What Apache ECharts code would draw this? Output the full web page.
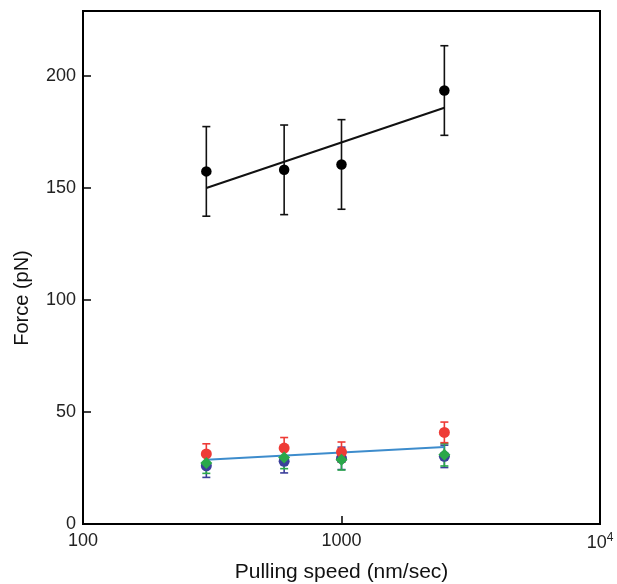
<!DOCTYPE html>
<html>
<head>
<meta charset="utf-8">
<script src="https://cdn.jsdelivr.net/npm/echarts@6/dist/echarts.min.js"></script>
<style>
  html, body { margin: 0; padding: 0; background: #fff; }
  #chart { width: 617px; height: 584px; }
</style>
</head>
<body>
<div id="chart"></div>
<script>
// Pulling speed (nm/sec) for every measured group
const speeds = [300, 600, 1000, 2500];

// Mean rupture force (pN) and its error for each group
const forceBlack = [157.4, 158.1, 160.5, 193.5];
const errBlack   = [20, 20, 20, 20];
const forceRed   = [31.3, 33.9, 32.1, 40.9];
const errRed     = [4.5, 4.7, 4.5, 4.6];
const forceBlue  = [26.0, 28.0, 29.3, 30.2];
const errBlue    = [5.2, 5.2, 5.0, 5.0];
const forceGreen = [27.2, 29.7, 28.7, 30.9];
const errGreen   = [4.6, 5.0, 4.6, 5.0];

// Fitted lines (force vs log speed), end points
const fitSpeeds = [300, 2500];
const fitBlack  = [150.0, 185.8];
const fitLow    = [28.7, 34.4];

// Axis ticks
const xTicks = [100, 1000, 10000];
const yTicks = [0, 50, 100, 150, 200];

const pairs = (xs, ys) => xs.map((x, i) => [x, ys[i]]);
const errRows = (ys, es) => speeds.map((x, i) => [x, ys[i] - es[i], ys[i] + es[i]]);

function errorBars(name, ys, es, color, z) {
  return {
    name: name,
    type: 'custom',
    z: z,
    data: errRows(ys, es),
    renderItem: function (params, api) {
      const x = api.value(0);
      const lo = api.coord([x, api.value(1)]);
      const hi = api.coord([x, api.value(2)]);
      const w = 4;
      const style = { stroke: color, lineWidth: 1.6 };
      return {
        type: 'group',
        children: [
          { type: 'line', shape: { x1: lo[0], y1: lo[1], x2: hi[0], y2: hi[1] }, style: style },
          { type: 'line', shape: { x1: lo[0] - w, y1: lo[1], x2: lo[0] + w, y2: lo[1] }, style: style },
          { type: 'line', shape: { x1: hi[0] - w, y1: hi[1], x2: hi[0] + w, y2: hi[1] }, style: style }
        ]
      };
    }
  };
}

function points(name, ys, color, symbol, size, z) {
  return {
    name: name,
    type: 'scatter',
    z: z,
    symbol: symbol,
    symbolSize: size,
    itemStyle: { color: color, opacity: 1 },
    data: pairs(speeds, ys)
  };
}

function fitLine(name, ys, color, z) {
  return {
    name: name,
    type: 'line',
    z: z,
    symbol: 'none',
    lineStyle: { color: color, width: 2 },
    data: pairs(fitSpeeds, ys)
  };
}

const RED = '#ee3b36', BLUE = '#3b3f9a', GREEN = '#2aa84a', FIT = '#3d8ccc';
const FONT = 'Liberation Sans, Arial, sans-serif';

const chart = echarts.init(document.getElementById('chart'), null, { renderer: 'canvas' });

chart.setOption({
  backgroundColor: '#fff',
  animation: false,
  grid: {
    left: 83, right: 17, top: 11, bottom: 60,
    outerBoundsMode: 'none',
    containLabel: false,
    show: true, borderColor: '#000', borderWidth: 2
  },
  xAxis: {
    type: 'log',
    logBase: 10,
    min: 100,
    max: 10000,
    name: 'Pulling speed (nm/sec)',
    nameLocation: 'middle',
    nameGap: 38,
    nameTextStyle: { fontFamily: FONT, fontSize: 21, color: '#111' },
    axisLine: { lineStyle: { color: '#000', width: 2 } },
    axisTick: { inside: true, length: 8, lineStyle: { color: '#000', width: 1.5 } },
    splitLine: { show: false },
    minorTick: { show: false },
    axisLabel: {
      fontFamily: FONT, fontSize: 18, color: '#222', margin: 8,
      formatter: function (v) {
        return v >= 10000 ? '{b|10}{s|4}' : String(Math.round(v));
      },
      rich: {
        b: { fontFamily: FONT, fontSize: 18, color: '#222' },
        s: { fontFamily: FONT, fontSize: 12, color: '#222', verticalAlign: 'top', padding: [0, 0, 10, 0] }
      }
    }
  },
  yAxis: {
    type: 'value',
    min: 0,
    max: 229,
    interval: 50,
    axisLine: { show: true, lineStyle: { color: '#000', width: 2 } },
    axisTick: { show: true, inside: true, length: 8, customValues: yTicks, lineStyle: { color: '#000', width: 1.5 } },
    splitLine: { show: false },
    axisLabel: {
      fontFamily: FONT, fontSize: 18, color: '#222', margin: 7,
      customValues: yTicks,
      formatter: function (v) { return v % 50 === 0 ? String(v) : ''; }
    }
  },
  graphic: [{
    type: 'text',
    x: 22,
    y: 298,
    rotation: Math.PI / 2,
    style: {
      text: 'Force (pN)',
      fontFamily: FONT,
      fontSize: 20,
      fill: '#111',
      align: 'center',
      verticalAlign: 'middle'
    }
  }],
  series: [
    errorBars('Blue error', forceBlue, errBlue, BLUE, 2),
    errorBars('Green error', forceGreen, errGreen, GREEN, 2),
    errorBars('Red error', forceRed, errRed, RED, 2),
    errorBars('Black error', forceBlack, errBlack, '#111', 2),
    fitLine('Black fit', fitBlack, '#111', 3),
    fitLine('Low fit', fitLow, FIT, 3),
    points('Blue', forceBlue, BLUE, 'circle', 11, 4),
    points('Red', forceRed, RED, 'circle', 11, 5),
    points('Green', forceGreen, GREEN, 'diamond', 12, 6),
    points('Black', forceBlack, '#000', 'circle', 10.5, 6)
  ]
});
</script>
</body>
</html>
